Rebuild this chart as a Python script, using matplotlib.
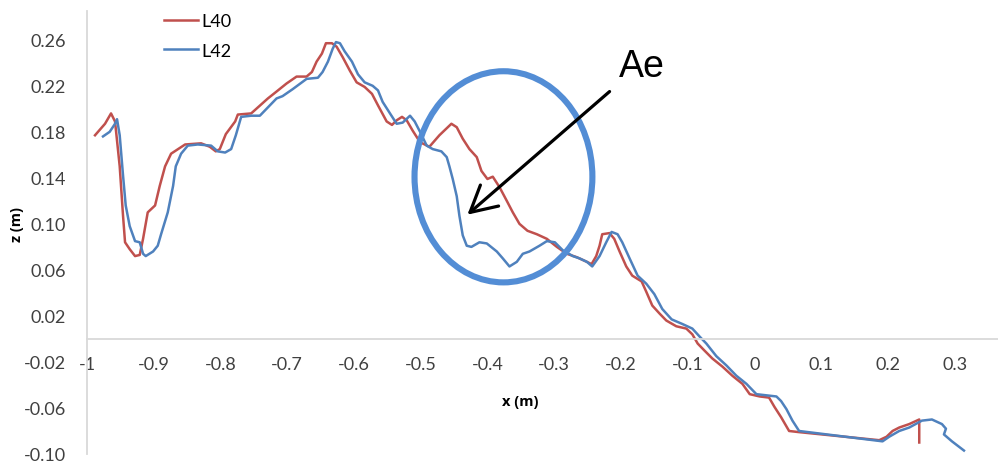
import numpy as np
import matplotlib
matplotlib.use("Agg")
import matplotlib.pyplot as plt
from matplotlib.patches import Ellipse

# profile L40 (red)
x40 = [-0.988, -0.973, -0.964, -0.958, -0.951, -0.946, -0.943, -0.936, -0.928, -0.921,
       -0.916, -0.909, -0.898, -0.891, -0.883, -0.874, -0.853, -0.829, -0.816, -0.807,
       -0.801, -0.792, -0.778, -0.774, -0.754, -0.729, -0.716, -0.701, -0.686, -0.671,
       -0.663, -0.656, -0.648, -0.642, -0.633, -0.626, -0.617, -0.606, -0.596, -0.584,
       -0.573, -0.564, -0.551, -0.543, -0.536, -0.528, -0.521, -0.512, -0.501, -0.487,
       -0.472, -0.454, -0.446, -0.437, -0.427, -0.416, -0.409, -0.400, -0.392, -0.382,
       -0.371, -0.362, -0.352, -0.340, -0.326, -0.311, -0.296, -0.281, -0.266, -0.251,
       -0.244, -0.237, -0.232, -0.228, -0.217, -0.210, -0.202, -0.192, -0.183, -0.169,
       -0.162, -0.153, -0.142, -0.132, -0.117, -0.102, -0.093, -0.085, -0.075, -0.063,
       -0.048, -0.033, -0.018, -0.007, 0.008, 0.022, 0.030, 0.040, 0.052, 0.067,
       0.187, 0.198, 0.207, 0.217, 0.232, 0.247, 0.247]
z40 = [0.177, 0.187, 0.196, 0.189, 0.150, 0.107, 0.084, 0.078, 0.072, 0.073,
       0.087, 0.110, 0.116, 0.133, 0.150, 0.161, 0.169, 0.170, 0.167, 0.163,
       0.165, 0.178, 0.189, 0.195, 0.196, 0.209, 0.215, 0.222, 0.228, 0.228,
       0.232, 0.241, 0.248, 0.257, 0.257, 0.254, 0.245, 0.233, 0.223, 0.219,
       0.213, 0.203, 0.189, 0.186, 0.190, 0.193, 0.190, 0.181, 0.171, 0.167,
       0.177, 0.187, 0.184, 0.174, 0.165, 0.158, 0.146, 0.139, 0.141, 0.132,
       0.120, 0.110, 0.100, 0.094, 0.091, 0.087, 0.080, 0.074, 0.071, 0.067,
       0.065, 0.072, 0.081, 0.091, 0.092, 0.087, 0.076, 0.063, 0.055, 0.050,
       0.041, 0.029, 0.022, 0.016, 0.011, 0.009, 0.004, -0.004, -0.010, -0.017,
       -0.024, -0.032, -0.039, -0.048, -0.050, -0.051, -0.059, -0.068, -0.080, -0.081,
       -0.088, -0.085, -0.080, -0.077, -0.074, -0.070, -0.090]

# profile L42 (blue)
x42 = [-0.976, -0.966, -0.958, -0.955, -0.951, -0.946, -0.942, -0.936, -0.928, -0.921,
       -0.916, -0.912, -0.901, -0.894, -0.889, -0.879, -0.871, -0.867, -0.859, -0.849,
       -0.834, -0.814, -0.804, -0.793, -0.784, -0.777, -0.769, -0.754, -0.741, -0.731,
       -0.716, -0.707, -0.692, -0.671, -0.654, -0.647, -0.639, -0.632, -0.627, -0.621,
       -0.614, -0.603, -0.594, -0.584, -0.572, -0.564, -0.557, -0.546, -0.536, -0.527,
       -0.516, -0.509, -0.501, -0.491, -0.482, -0.469, -0.461, -0.457, -0.452, -0.446,
       -0.442, -0.437, -0.431, -0.424, -0.412, -0.401, -0.386, -0.377, -0.367, -0.356,
       -0.347, -0.337, -0.322, -0.311, -0.299, -0.287, -0.272, -0.262, -0.251, -0.243,
       -0.232, -0.222, -0.214, -0.205, -0.198, -0.187, -0.175, -0.162, -0.150, -0.138,
       -0.124, -0.108, -0.093, -0.082, -0.072, -0.057, -0.042, -0.027, -0.012, 0.003,
       0.018, 0.033, 0.040, 0.048, 0.057, 0.067, 0.192, 0.202, 0.217, 0.232,
       0.251, 0.266, 0.281, 0.287, 0.284, 0.296, 0.314]
z42 = [0.176, 0.180, 0.187, 0.191, 0.177, 0.142, 0.116, 0.098, 0.085, 0.084,
       0.074, 0.072, 0.076, 0.081, 0.091, 0.110, 0.133, 0.150, 0.161, 0.168,
       0.169, 0.168, 0.163, 0.162, 0.165, 0.177, 0.193, 0.194, 0.194, 0.200,
       0.209, 0.211, 0.217, 0.226, 0.227, 0.232, 0.241, 0.252, 0.258, 0.257,
       0.250, 0.241, 0.230, 0.223, 0.220, 0.216, 0.206, 0.196, 0.187, 0.188,
       0.194, 0.189, 0.180, 0.168, 0.165, 0.163, 0.158, 0.150, 0.139, 0.124,
       0.107, 0.090, 0.081, 0.080, 0.084, 0.083, 0.076, 0.070, 0.063, 0.067,
       0.074, 0.076, 0.081, 0.085, 0.084, 0.077, 0.072, 0.070, 0.067, 0.063,
       0.072, 0.084, 0.093, 0.091, 0.084, 0.070, 0.055, 0.048, 0.039, 0.026,
       0.017, 0.013, 0.009, 0.002, -0.004, -0.015, -0.023, -0.032, -0.039, -0.048,
       -0.049, -0.050, -0.054, -0.061, -0.071, -0.080, -0.089, -0.085, -0.080, -0.077,
       -0.071, -0.070, -0.074, -0.078, -0.083, -0.089, -0.097]

xticks = [-1, -0.9, -0.8, -0.7, -0.6, -0.5, -0.4, -0.3, -0.2, -0.1, 0, 0.1, 0.2, 0.3]
yticks = [-0.10, -0.06, -0.02, 0.02, 0.06, 0.10, 0.14, 0.18, 0.22, 0.26]

W, H = 998, 464
fig = plt.figure(figsize=(W / 100, H / 100), dpi=100)
ax = fig.add_axes([87 / W, 1 - 455 / H, 1 - 87 / W, (455 - 12) / H])

tick_font = dict(family="Lato", size=13)
grey = "#D9D9D9"

ax.plot(x40, z40, color="#C0504D", lw=1.8, label="L40")
ax.plot(x42, z42, color="#4F81BD", lw=1.8, label="L42")

ax.set_xlim(-1, 0.365)
ax.set_ylim(-0.10, 0.285)

for s in ["top", "right"]:
    ax.spines[s].set_visible(False)
ax.spines["bottom"].set_position(("data", 0))
ax.spines["left"].set_position(("data", -1))
ax.spines["bottom"].set_color(grey)
ax.spines["left"].set_color(grey)
ax.spines["bottom"].set_linewidth(1.3)
ax.spines["left"].set_linewidth(1.3)

ax.set_xticks(xticks)
ax.set_xticklabels(["0" if v == 0 else f"{v:g}" for v in xticks], **tick_font, color="#404040")
ax.set_yticks(yticks)
ax.set_yticklabels([f"{v:.2f}" for v in yticks], **tick_font, color="#404040")
ax.tick_params(axis="x", length=0, pad=12)
ax.tick_params(axis="y", length=0, pad=15)

fig.text(520 / W, 1 - 402 / H, "x (m)", ha="center", va="center",
         family="Open Sans", fontweight="bold", size=10.5)
fig.text(17 / W, 1 - 225 / H, "z (m)", ha="center", va="center", rotation=90,
         family="Open Sans", fontweight="bold", size=10.5)

leg = ax.legend(loc="upper left", bbox_to_anchor=(164 / W, 1 - 14 / H),
                bbox_transform=fig.transFigure, frameon=False,
                prop=dict(family="Lato", size=13), handlelength=1.9,
                handletextpad=0.15, labelspacing=0.75, borderpad=0, borderaxespad=0)

# highlighted zone
ax.add_patch(Ellipse((-0.376, 0.1409), 0.2665, 0.1835, fill=False,
                     edgecolor="#538DD5", lw=4.4, zorder=5))
ax.annotate("", xy=(-0.430, 0.108), xytext=(-0.217, 0.215),
            arrowprops=dict(arrowstyle="->,head_length=0.93,head_width=0.5",
                            mutation_scale=20, lw=2.3, color="black",
                            shrinkA=0, shrinkB=0), zorder=6)
ax.text(-0.168, 0.237, "Ae", ha="center", va="center",
        family="Liberation Sans", size=27, color="black")

fig.savefig("out.png", dpi=100)
